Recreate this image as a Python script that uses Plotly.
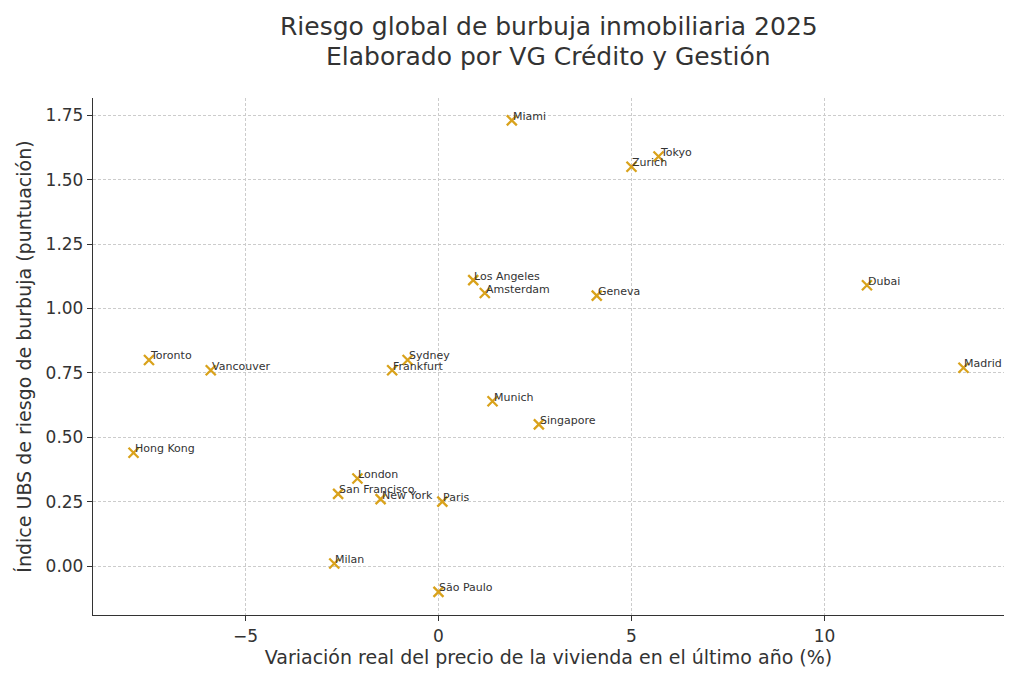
import plotly.graph_objects as go

cities = ["Miami", "Tokyo", "Zurich", "Los Angeles", "Amsterdam", "Geneva", "Dubai",
          "Madrid", "Toronto", "Vancouver", "Sydney", "Frankfurt", "Munich", "Singapore",
          "Hong Kong", "London", "San Francisco", "New York", "Paris", "Milan", "São Paulo"]
price_change = [1.9, 5.7, 5.0, 0.9, 1.2, 4.1, 11.1,
                13.6, -7.5, -5.9, -0.8, -1.2, 1.4, 2.6,
                -7.9, -2.1, -2.6, -1.5, 0.1, -2.7, 0.0]
bubble_index = [1.73, 1.59, 1.55, 1.11, 1.06, 1.05, 1.09,
                0.77, 0.80, 0.76, 0.80, 0.76, 0.64, 0.55,
                0.44, 0.34, 0.28, 0.26, 0.25, 0.01, -0.10]

x_ticks = [-5, 0, 5, 10]
x_ticktext = ["\u22125", "0", "5", "10"]
y_ticks = [0.0, 0.25, 0.5, 0.75, 1.0, 1.25, 1.5, 1.75]
title_lines = ["Riesgo global de burbuja inmobiliaria 2025",
               "Elaborado por VG Crédito y Gestión"]

FONT = "DejaVu Sans"
fig = go.Figure()
fig.add_trace(go.Scatter(
    x=price_change, y=bubble_index, mode="markers",
    marker=dict(symbol="x-thin", size=10, color="#D9A21B",
                line=dict(width=2.3, color="#D9A21B")),
    showlegend=False, hoverinfo="text", text=cities))

for c, xv, yv in zip(cities, price_change, bubble_index):
    fig.add_annotation(x=xv, y=yv, text=c, showarrow=False, xanchor="left",
                       yanchor="middle", yshift=4, xshift=-1,
                       font=dict(family=FONT, size=11, color="#333333"))

# title as two lines positioned above the plot area (plot area: top 98px, height 517px)
for line, ypix in zip(title_lines, [27, 57]):
    fig.add_annotation(xref="paper", yref="paper", x=0.5, y=(615 - ypix) / 517,
                       text=line, showarrow=False, xanchor="center", yanchor="middle",
                       font=dict(family=FONT, size=25, color="#333333"))

fig.update_layout(
    width=1024, height=683,
    paper_bgcolor="white", plot_bgcolor="white",
    margin=dict(l=93, r=20, t=98, b=68),
    font=dict(family=FONT, color="#333333"),
    xaxis=dict(range=[-8.95, 14.65], tickvals=x_ticks, ticktext=x_ticktext,
               showgrid=True, gridcolor="#cccccc", griddash="3px,2px", gridwidth=1,
               zeroline=False, showline=True, linecolor="#333333", linewidth=1.3,
               ticks="outside", ticklen=5, tickcolor="#333333",
               tickfont=dict(family=FONT, size=17, color="#333333"),
               title=dict(text="Variación real del precio de la vivienda en el último año (%)",
                          font=dict(family=FONT, size=19, color="#333333"), standoff=6)),
    yaxis=dict(range=[-0.19, 1.817], tickvals=y_ticks, tickformat=".2f",
               showgrid=True, gridcolor="#cccccc", griddash="3px,2px", gridwidth=1,
               zeroline=False, showline=True, linecolor="#333333", linewidth=1.3,
               ticks="outside", ticklen=5, tickcolor="#333333",
               tickfont=dict(family=FONT, size=17, color="#333333"),
               title=dict(text="Índice UBS de riesgo de burbuja (puntuación)",
                          font=dict(family=FONT, size=19, color="#333333"), standoff=8)),
)

fig.write_html("out.html")
